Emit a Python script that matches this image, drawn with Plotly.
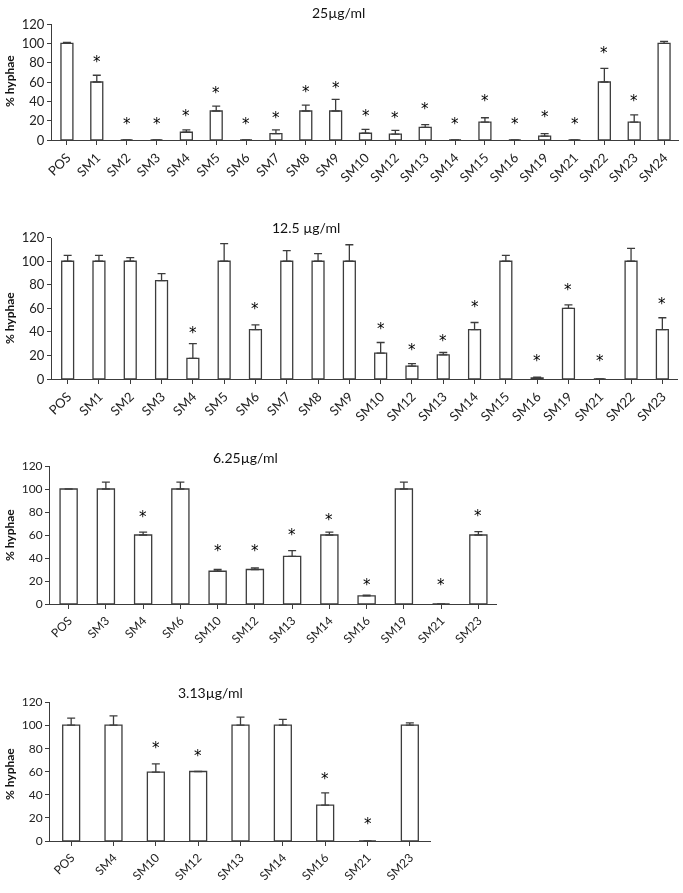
import plotly.graph_objects as go

# ---------------- data ----------------
cats1 = ["POS", "SM1", "SM2", "SM3", "SM4", "SM5", "SM6", "SM7", "SM8", "SM9", "SM10",
         "SM12", "SM13", "SM14", "SM15", "SM16", "SM19", "SM21", "SM22", "SM23", "SM24"]
vals1 = [100, 60, 0, 0, 8, 30, 0, 6.5, 30, 30, 7, 6, 13, 0, 18.5, 0, 4, 0, 60, 18.5, 100]
errs1 = [1, 7, 0, 0, 2.5, 5, 0, 4, 6, 12, 4, 4, 3, 0, 4.5, 0, 2.5, 0, 14, 7.5, 2]
stars1 = [None, 84, 20, 20, 28, 52, 20, 26, 53, 57, 27.5, 26, 35, 20, 43.5, 20, 27, 20, 93, 43.5, None]

cats2 = ["POS", "SM1", "SM2", "SM3", "SM4", "SM5", "SM6", "SM7", "SM8", "SM9", "SM10",
         "SM12", "SM13", "SM14", "SM15", "SM16", "SM19", "SM21", "SM22", "SM23"]
vals2 = [100, 100, 100, 83.5, 17.5, 100, 42, 100, 100, 100, 22, 11, 20.5, 42, 100, 1, 60, 0, 100, 42]
errs2 = [5, 5, 3, 6, 12.5, 15, 4, 9, 6.5, 14, 9, 2, 2, 6, 5, 0.5, 3, 0, 11, 10]
stars2 = [None, None, None, None, 41.6, None, 62, None, None, None, 45, 27, 35, 64, None, 18, 78, 17.6, None, 66]

cats3 = ["POS", "SM3", "SM4", "SM6", "SM10", "SM12", "SM13", "SM14", "SM16", "SM19", "SM21", "SM23"]
vals3 = [100, 100, 60, 100, 28.5, 30, 41.5, 60, 7, 100, 0, 60]
errs3 = [0, 6, 2.5, 6, 1.5, 1.5, 5, 2.5, 0.7, 6, 0, 3]
stars3 = [None, None, 78, None, 49, 49, 63, 76, 19, None, 19, 79]

cats4 = ["POS", "SM4", "SM10", "SM12", "SM13", "SM14", "SM16", "SM21", "SM23"]
vals4 = [100, 100, 59.5, 60, 100, 100, 31, 0, 100]
errs4 = [6, 8, 7, 0, 7, 5, 10.5, 0, 2]
stars4 = [None, None, 82.5, 76, None, None, 56, 17.6, None]

titles = ["25µg/ml", "12.5 µg/ml", "6.25µg/ml", "3.13µg/ml"]
y_ticks = [0, 20, 40, 60, 80, 100, 120]
y_title = "% hyphae"

# ---------------- layout geometry (pixels) ----------------
W, H = 683, 893
FONT = "Lato, 'Liberation Sans', sans-serif"
STAR_FONT = "'DejaVu Sans', sans-serif"
LINE = "#3c3c3c"

panels = [
    dict(cats=cats1, vals=vals1, errs=errs1, stars=stars1, x0=52, x1=679, y0=24, y1=140,
         tpos=(338, 12), ytp=81, fs=13, gap=0.6),
    dict(cats=cats2, vals=vals2, errs=errs2, stars=stars2, x0=52, x1=678, y0=237.7, y1=379,
         tpos=(306, 228), ytp=318, fs=13, gap=0.62),
    dict(cats=cats3, vals=vals3, errs=errs3, stars=stars3, x0=50, x1=497, y0=466, y1=604,
         tpos=(245, 457), ytp=535, fs=12, gap=0.54),
    dict(cats=cats4, vals=vals4, errs=errs4, stars=stars4, x0=50, x1=431, y0=702, y1=841,
         tpos=(210, 692), ytp=774, fs=12, gap=0.6),
]

fig = go.Figure()
annotations = []
layout = {}

for i, p in enumerate(panels, start=1):
    xa = "x" if i == 1 else f"x{i}"
    ya = "y" if i == 1 else f"y{i}"
    n = len(p["cats"])
    fig.add_trace(go.Bar(
        x=p["cats"], y=p["vals"], xaxis=xa, yaxis=ya, width=1 - p["gap"],
        marker=dict(color="white", line=dict(color=LINE, width=1.3)),
        error_y=dict(type="data", array=p["errs"], arrayminus=[0] * n, symmetric=False,
                     color=LINE, thickness=1.3, width=4),
        showlegend=False, hoverinfo="x+y",
    ))
    layout[f"xaxis{i}"] = dict(
        domain=[p["x0"] / W, p["x1"] / W], anchor=ya, type="category", automargin=False,
        range=[-0.5, n - 0.5], tickangle=-45, ticks="outside", ticklen=4,
        tickcolor=LINE, showline=True, linecolor=LINE, linewidth=1,
        showgrid=False, zeroline=False,
        tickfont=dict(family=FONT, size=p["fs"], color="#222"),
    )
    layout[f"yaxis{i}"] = dict(
        domain=[1 - p["y1"] / H, 1 - p["y0"] / H], anchor=xa, automargin=False,
        range=[0, 120], tickvals=y_ticks, ticks="outside", ticklen=4,
        tickcolor=LINE, showline=True, linecolor=LINE, linewidth=1,
        showgrid=False, zeroline=False,
        tickfont=dict(family=FONT, size=p["fs"], color="#222"),
    )
    # significance stars
    for c, s in zip(p["cats"], p["stars"]):
        if s is None:
            continue
        annotations.append(dict(x=c, y=s, xref=xa, yref=ya, text="*", showarrow=False,
                                xanchor="center", yanchor="middle", yshift=-3,
                                font=dict(family=STAR_FONT, size=15, color="#000")))
    # panel title
    annotations.append(dict(x=p["tpos"][0] / W, y=1 - p["tpos"][1] / H, xref="paper", yref="paper",
                            text=titles[i - 1], showarrow=False, xanchor="center", yanchor="middle",
                            font=dict(family=FONT, size=14, color="#111")))
    # y-axis title
    annotations.append(dict(x=9 / W, y=1 - p["ytp"] / H, xref="paper", yref="paper",
                            text=f"<b>{y_title}</b>", textangle=-90, showarrow=False,
                            xanchor="center", yanchor="middle",
                            font=dict(family=FONT, size=12, color="#111")))

fig.update_layout(
    width=W, height=H, margin=dict(l=0, r=0, t=0, b=0),
    paper_bgcolor="white", plot_bgcolor="white",
    annotations=annotations, **layout,
)

fig.write_html(
    "out.html", config={"displayModeBar": False},
    post_script=("document.body.style.margin='0';document.body.style.padding='0';"
                 "var g=document.querySelector('.plotly-graph-div');"
                 "if(g){g.style.filter='grayscale(1)';}"),
)
